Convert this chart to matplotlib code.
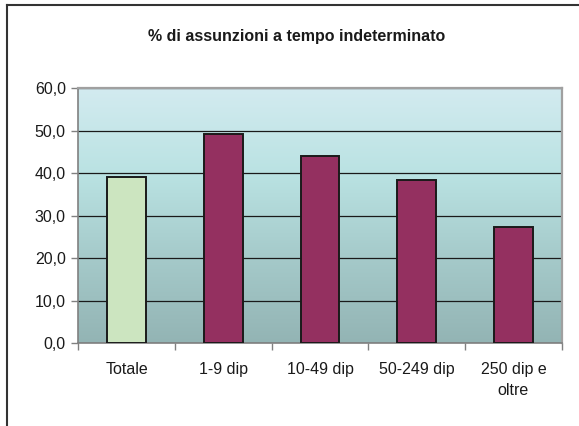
import matplotlib.pyplot as plt
import numpy as np
from matplotlib.colors import LinearSegmentedColormap
from matplotlib.ticker import FuncFormatter, MultipleLocator
from matplotlib.lines import Line2D

plt.rcParams['font.family'] = ['Liberation Sans', 'DejaVu Sans']

categories = ['Totale', '1-9 dip', '10-49 dip', '50-249 dip', '250 dip e\noltre']
values = [39.2, 49.2, 44.1, 38.4, 27.3]
bar_colors = ['#CCE5C0', '#943060', '#943060', '#943060', '#943060']
title = '% di assunzioni a tempo indeterminato'

fig = plt.figure(figsize=(5.79, 4.26), dpi=100)
ax = fig.add_axes([0.1352, 0.1941, 0.9703 - 0.1352, 0.7927 - 0.1941])

# gradient background of the plot area
grad = LinearSegmentedColormap.from_list(
    'bg', [(0.0, '#93B4B4'), (0.35, '#A6CBCB'), (0.65, '#B9E2E2'), (1.0, '#D3EBF0')])
ax.imshow(np.linspace(0, 1, 256).reshape(-1, 1), cmap=grad, aspect='auto',
          extent=(-0.5, len(categories) - 0.5, 0, 60), origin='lower', zorder=0)

x = np.arange(len(categories))
ax.bar(x, values, width=0.4, color=bar_colors, edgecolor='#1a1a1a', linewidth=1.4, zorder=3)

ax.set_xlim(-0.5, len(categories) - 0.5)
ax.set_ylim(0, 60)
ax.yaxis.set_major_locator(MultipleLocator(10))
ax.yaxis.set_major_formatter(FuncFormatter(lambda v, p: f'{v:.1f}'.replace('.', ',')))
ax.yaxis.grid(True, color='#1a1a1a', linewidth=0.9, zorder=1)
ax.set_axisbelow(True)

ax.set_xticks(np.arange(len(categories) + 1) - 0.5)
ax.set_xticklabels([])
ax.set_xticks(x, minor=True)
ax.set_xticklabels(categories, minor=True, fontsize=11.5, color='#1a1a1a', linespacing=1.5)
ax.tick_params(axis='x', which='minor', length=0, pad=13.5)
ax.tick_params(axis='x', which='major', length=5, width=1, color='#808080')
ax.tick_params(axis='y', length=5, width=1, color='#808080', labelsize=11.5,
               labelcolor='#1a1a1a', pad=4)

for side in ['left', 'bottom']:
    ax.spines[side].set_color('#808080')
    ax.spines[side].set_linewidth(1.2)
for side in ['top', 'right']:
    ax.spines[side].set_color('#A0A0A0')
    ax.spines[side].set_linewidth(1.6)

fig.text(0.513, 1 - 36 / 426, title, ha='center', va='center',
         fontsize=11.5, fontweight='bold', color='#1a1a1a')

# chart border
fig.add_artist(Line2D([7 / 579, 7 / 579], [0, 1 - 5 / 426], color='#333333', linewidth=1.5))
fig.add_artist(Line2D([7 / 579, 1], [1 - 5 / 426, 1 - 5 / 426], color='#333333', linewidth=1.5))

fig.savefig('out.png', dpi=100)
